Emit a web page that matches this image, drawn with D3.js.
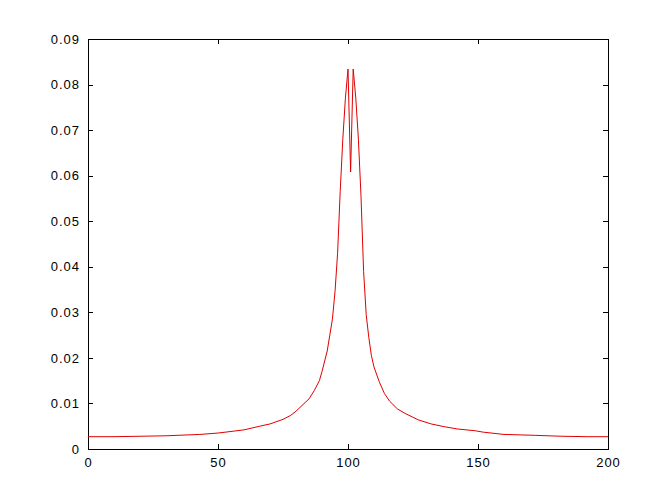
<!DOCTYPE html>
<html>
<head>
<meta charset="utf-8">
<script src="https://cdn.jsdelivr.net/npm/d3@7"></script>
<style>
  body { margin: 0; background: #fff; }
  text { font-family: "Liberation Sans", Arial, sans-serif; font-size: 13px; letter-spacing: 1px; fill: #000; }
</style>
</head>
<body>
<svg id="chart" width="672" height="504"></svg>
<script>
// sample positions and values
const xValues = [0, 10, 20, 30, 43, 50, 60, 66, 70, 75, 78, 80, 85, 87, 89, 90, 92, 93, 94, 95, 96, 97, 98, 99, 100,
  101, 102, 103, 104, 105, 106, 107, 108, 109, 110, 112, 114, 116, 119, 122, 127, 132, 137, 142, 149, 152, 160, 172, 182, 192, 200];
const yValues = [0.0027, 0.0027, 0.0028, 0.0029, 0.0032, 0.0035, 0.0042, 0.0050, 0.0055, 0.0065, 0.0074, 0.0083, 0.0110, 0.0128, 0.0150, 0.0170, 0.0215, 0.0250, 0.0285, 0.0345, 0.0430, 0.0565, 0.0680, 0.0770, 0.0834,
  0.0608, 0.0834, 0.0770, 0.0680, 0.0555, 0.0390, 0.0295, 0.0245, 0.0205, 0.0180, 0.0148, 0.0122, 0.0105, 0.0088, 0.0078, 0.0064, 0.0055, 0.0049, 0.0044, 0.0040, 0.0037, 0.0032, 0.0030, 0.0028, 0.0027, 0.0027];
const xTicks = [0, 50, 100, 150, 200];
const yTicks = [0, 0.01, 0.02, 0.03, 0.04, 0.05, 0.06, 0.07, 0.08, 0.09];

const margin = {left: 88, top: 39, right: 64, bottom: 55};
const width = 672 - margin.left - margin.right;
const height = 504 - margin.top - margin.bottom;

const svg = d3.select('#chart');
const g = svg.append('g').attr('transform', `translate(${margin.left},${margin.top})`);

const x = d3.scaleLinear().domain([0, 200]).range([0, width]);
const y = d3.scaleLinear().domain([0, 0.09]).range([height, 0]);

const fmt = (d) => d === 0 ? '0' : d3.format('.2f')(d);

// box
g.append('rect')
    .attr('width', width)
    .attr('height', height)
    .attr('fill', '#fff')
    .attr('stroke', '#000')
    .attr('stroke-width', 1)
    .attr('shape-rendering', 'crispEdges');

// inward ticks on every side
const tickLen = 5;
g.append('g')
    .attr('transform', `translate(0,${height})`)
    .call(d3.axisBottom(x).tickValues(xTicks).tickSizeInner(-tickLen).tickSizeOuter(0).tickPadding(9).tickFormat(d3.format('d')))
    .call((a) => a.select('.domain').remove());
g.append('g')
    .call(d3.axisTop(x).tickValues(xTicks).tickSizeInner(-tickLen).tickSizeOuter(0).tickFormat(''))
    .call((a) => a.select('.domain').remove());
g.append('g')
    .call(d3.axisLeft(y).tickValues(yTicks).tickSizeInner(-tickLen).tickSizeOuter(0).tickPadding(8).tickFormat(fmt))
    .call((a) => a.select('.domain').remove());
g.append('g')
    .attr('transform', `translate(${width},0)`)
    .call(d3.axisRight(y).tickValues(yTicks).tickSizeInner(-tickLen).tickSizeOuter(0).tickFormat(''))
    .call((a) => a.select('.domain').remove());

g.selectAll('.tick line').attr('stroke', '#000').attr('shape-rendering', 'crispEdges');
g.selectAll('.tick text').attr('font-size', 13).attr('font-family', null);

// the curve
const pts = xValues.map((d, i) => [d, yValues[i]]);
g.append('path')
    .datum(pts)
    .attr('fill', 'none')
    .attr('stroke', '#e00000')
    .attr('stroke-width', 1)
    .attr('d', d3.line().x((d) => x(d[0])).y((d) => y(d[1])));
</script>
</body>
</html>
